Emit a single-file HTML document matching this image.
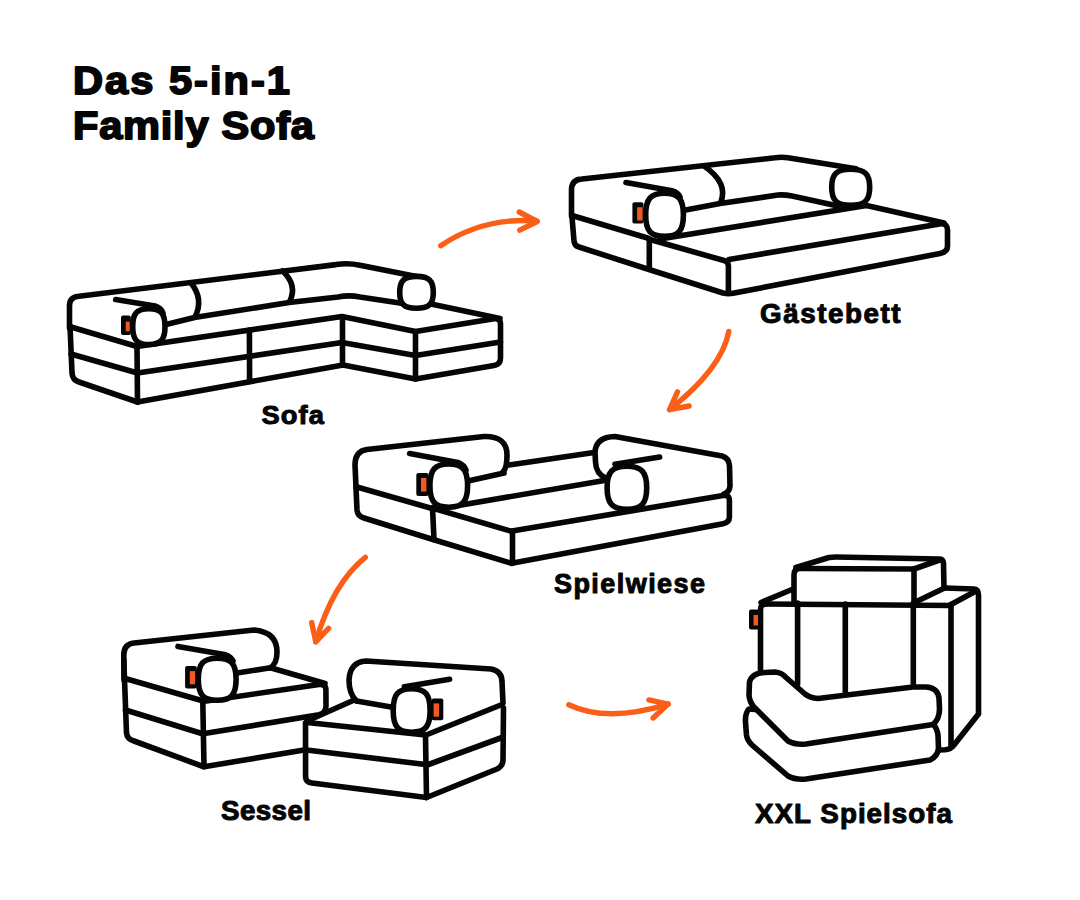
<!DOCTYPE html>
<html><head><meta charset="utf-8">
<style>
html,body{margin:0;padding:0;background:#fff;width:1080px;height:900px;overflow:hidden}
svg{display:block}
.k path{fill:none;stroke:#050505;stroke-width:5.6;stroke-linecap:round;stroke-linejoin:round}
.b{fill:#fff;stroke:#050505;stroke-width:5.6;stroke-linejoin:round}
.o path{fill:none;stroke:#FB5E17;stroke-width:5.4;stroke-linecap:round;stroke-linejoin:round}
.t{font-family:"Liberation Sans",sans-serif;font-weight:bold;fill:#050505;stroke:#050505;stroke-width:1.0;stroke-linejoin:round}
.tt{stroke-width:1.8}
</style></head>
<body>
<svg width="1080" height="900" viewBox="0 0 1080 900">
<text class="t tt" transform="translate(73,94) scale(1.08,1)" x="0" y="0" font-size="38.5" textLength="200.93" lengthAdjust="spacing">Das 5-in-1</text>
<text class="t tt" transform="translate(73,139) scale(1.08,1)" x="0" y="0" font-size="38.5" textLength="223.15" lengthAdjust="spacing">Family Sofa</text>
<g class="k">
<path d="M69.5,328 L69.5,305 Q70,296.8 79,296.3 L336,264.6 Q348,262.6 360,265.3 L419,277"/>
<path d="M70,326 L72,373 Q72.5,380 79,382 L137.5,402"/>
<path d="M71,327 L137,346.5"/>
<path d="M71,354 L137.5,373"/>
<path d="M137,346.5 L137.5,402"/>
<path d="M137,346.5 L342,316.5 L415.5,331.5 L494,318.8 Q500.5,318 500.5,324 L500.5,358 Q500.5,364.5 494,365.5 L415.5,379 L343,365 L137.5,402"/>
<path d="M137.5,373 L342,342.5 L415.5,355.5 L500.5,342"/>
<path d="M249.4,330 L249.6,381.5"/>
<path d="M342.5,317 L342.5,364.5"/>
<path d="M415.5,331.5 L415.5,379"/>
<path d="M166,324.5 L194.5,317.5 L289,302.5 L338,297 Q349,294.8 360,297 L403,303.5"/>
<path d="M431,304 L500,318.5"/>
<path d="M191,283 Q204,299 195,317"/>
<path d="M282.5,271 Q298,285 289.5,302"/>
<path d="M115.7,299.6 L155,306 Q161,308 163,313"/>
</g>
<path class="b" d="M148.8,308.7 C160.8,308.7 165.0,313.4 165.0,326.6 C165.0,339.8 160.8,344.5 148.8,344.5 C136.9,344.5 132.7,339.8 132.7,326.6 C132.7,313.4 136.9,308.7 148.8,308.7 Z"/>
<path class="b" d="M416.5,276.4 C428.9,276.4 433.3,280.5 433.3,292.4 C433.3,304.2 428.9,308.3 416.5,308.3 C404.1,308.3 399.7,304.2 399.7,292.4 C399.7,280.5 404.1,276.4 416.5,276.4 Z"/>
<rect x="121" y="315.5" width="9.8" height="19.5" rx="2" fill="#050505"/>
<rect x="125.7" y="321.7" width="4.0" height="9.6" fill="#EE5A22"/>
<g class="k">
<path d="M571.5,216 L571.5,190 Q571.5,179.5 582,179 L775,157.8 Q781.5,156.8 788,157.8 L856,168.8"/>
<path d="M704,166 Q729,183 720.5,203"/>
<path d="M683,210.5 L720,203.5 L778,195 Q785,194.6 792,196 L838,206"/>
<path d="M626,182.5 L672,190.8 Q678,192.5 680,197"/>
<path d="M572,217 L574,241 Q574.5,246 579,247 L649,269.5 L723,293 Q728,294.3 733,293.3 L940,253.5 Q947.5,252 947.5,246 L947.5,230 Q947.5,223.5 941,223.8 L729,259.5"/>
<path d="M572,215.5 L647.5,238"/>
<path d="M649.3,239 L649.3,268.5"/>
<path d="M650,239.5 L724,260.5 Q728.4,261.5 728.4,266 L728.4,293"/>
<path d="M866.5,205.5 L944,223"/>
<path d="M660,239 L866.5,205.5"/>
</g>
<path class="b" d="M850.7,169.3 C864.8,169.3 869.7,174.0 869.7,187.3 C869.7,200.6 864.8,205.3 850.7,205.3 C836.6,205.3 831.7,200.6 831.7,187.3 C831.7,174.0 836.6,169.3 850.7,169.3 Z"/>
<path class="b" d="M664.5,193.3 C678.5,193.3 683.4,198.9 683.4,214.9 C683.4,230.8 678.5,236.4 664.5,236.4 C650.6,236.4 645.7,230.8 645.7,214.9 C645.7,198.9 650.6,193.3 664.5,193.3 Z"/>
<rect x="632.4" y="202.2" width="11.1" height="21.4" rx="2" fill="#050505"/>
<rect x="637.1" y="207.3" width="5.5" height="13.2" fill="#EE5A22"/>
<g class="k">
<path d="M356,487 L355,465 Q355,451 367,449.5 L484,436.5 Q507,436 507,455 Q507,468 503,472"/>
<path d="M468,481 L504,473"/>
<path d="M509,465 L594,452.5"/>
<path d="M605.8,478 Q596,474 595.5,462 L595,452 Q596,437 615,436.5 L722,456 Q729,458 729.5,466 L730,486 Q729.5,492 724,494"/>
<path d="M438,509 L605.8,480.2"/>
<path d="M512,531 L723,495.5 Q729.4,494.5 729.4,500.5 L729.4,517 Q729.4,522.5 723,523.8 L513,563"/>
<path d="M356,488 L357,510 Q357.5,516 364,518 L433,539.5 L512,563.5"/>
<path d="M357,487 L432,508.5"/>
<path d="M432.5,507.5 L434,539.5"/>
<path d="M434,508.5 L512,531.5"/>
<path d="M512.5,531.5 L512.5,563"/>
<path d="M409.7,453.5 L457.9,462.4 Q464,465 466,470"/>
</g>
<path class="b" d="M448.8,464.0 C462.7,464.0 467.6,469.6 467.6,485.6 C467.6,501.6 462.7,507.2 448.8,507.2 C434.8,507.2 429.9,501.6 429.9,485.6 C429.9,469.6 434.8,464.0 448.8,464.0 Z"/>
<path class="b" d="M626.9,466.3 C641.6,466.3 646.7,471.9 646.7,487.8 C646.7,503.6 641.6,509.2 626.9,509.2 C612.2,509.2 607.1,503.6 607.1,487.8 C607.1,471.9 612.2,466.3 626.9,466.3 Z"/>
<g class="k">
<path d="M615,464.2 L659.6,457.1"/>
</g>
<rect x="416.3" y="473" width="12.2" height="22.9" rx="2" fill="#050505"/>
<rect x="421" y="478" width="5.4" height="13.6" fill="#EE5A22"/>
<g class="k">
<path d="M124,680 L123.8,655 Q123.8,644 134,643 L254,630 Q277,632 277,652 Q277,664 270,668"/>
<path d="M237,673 L269,668"/>
<path d="M273,668.5 L325,683.5"/>
<path d="M123.8,660 L126.5,733 Q127,739 134,741 L204,766.8 L304,750"/>
<path d="M125.2,678.5 L201.5,700.5"/>
<path d="M125.5,710 L202.5,733.8"/>
<path d="M202.8,701.5 L204,766.8"/>
<path d="M202.8,701.5 L319,684.5 Q325.9,683.8 325.9,690 L326,706 Q326,713 319,714.8 L202.8,733.8"/>
<path d="M178,646.4 L225.6,654.8 Q231,656.5 233,661"/>
</g>
<path class="b" d="M217.2,658.3 C231.2,658.3 236.1,663.8 236.1,679.3 C236.1,694.8 231.2,700.3 217.2,700.3 C203.2,700.3 198.3,694.8 198.3,679.3 C198.3,663.8 203.2,658.3 217.2,658.3 Z"/>
<rect x="185.1" y="666" width="11.7" height="22.6" rx="2" fill="#050505"/>
<rect x="189.8" y="671.1" width="5.3" height="13.2" fill="#EE5A22"/>
<g class="k">
<path d="M356.5,701 Q349,694 349,680 Q350,662 366,661 L491,669 Q502,671 502,682 L503,703"/>
<path d="M356.5,701 L391,707"/>
<path d="M352,701 L307,721"/>
<path d="M307,722.5 L425.5,735"/>
<path d="M306.5,750 L425.5,764.5"/>
<path d="M305.5,723 L305.6,777 Q306,782.5 312,783 L426.5,797.5"/>
<path d="M425.5,735 L426.5,797.5"/>
<path d="M428.5,734 L502,704.5"/>
<path d="M428.5,764.5 L502,737.5"/>
<path d="M426.5,797.5 L497,769 Q503,766 503,760 L503.5,708"/>
</g>
<path class="b" d="M411.6,688.7 C425.3,688.7 430.1,694.4 430.1,710.5 C430.1,726.5 425.3,732.2 411.6,732.2 C398.0,732.2 393.2,726.5 393.2,710.5 C393.2,694.4 398.0,688.7 411.6,688.7 Z"/>
<g class="k">
<path d="M404.4,686.7 L449.6,679.3"/>
</g>
<rect x="431.7" y="698.4" width="11.6" height="21.8" rx="2" fill="#050505"/>
<rect x="433.6" y="703.4" width="5.5" height="13.3" fill="#EE5A22"/>
<g class="k">
<path d="M794,602 L794,575 Q794,568.5 800,568.5 L914,569 L914,603"/>
<path d="M796,567.5 L829,557.5 Q832,557 836,557 L939,559 Q943,559 943.5,563 L944,588"/>
<path d="M914,569 L941,559.5"/>
<path d="M915.5,602 L944.5,588"/>
<path d="M766,604 L951,605.5"/>
<path d="M761,602.5 L792,589.5"/>
<path d="M760.5,671 L760.5,610 Q760.5,604 766,604"/>
<path d="M797.6,603 L797.6,684"/>
<path d="M845.3,604 L845.3,692"/>
<path d="M913.3,603 L913.3,684"/>
<path d="M944.5,588 L974,589 Q978.5,589.5 978.5,595 L978.5,714 L954,745 Q950.5,749.5 945,749.8 L938,750"/>
<path d="M951,604.5 L976,591"/>
<path d="M951,604.5 L951,747"/>
</g>
<path class="b" d="M749,709 Q745,713 745.5,722 L746.5,735 Q747,740 752,745 L788,776 Q795,780 806,779 L930,760 Q938,756 938.5,748 L938,735 Q937,728 933,724 Z"/>
<path class="b" d="M933,724.5 Q939.5,719 939.5,709 L939,698 Q937.5,687.5 926,687 L913,687 L818,698.5 Q810,698 805,694 L786,677.5 Q782,672.5 775,672 L765,672.5 Q752,673 749.5,682 L749,695 Q749.5,702 754,707 L788,741 Q795,745 806,744 Z"/>
<rect x="749" y="609.5" width="10.0" height="20.0" rx="2" fill="#050505"/>
<rect x="753.5" y="615" width="4.5" height="10.5" fill="#EE5A22"/>
<g class="o">
<path d="M440.7,245.7 Q483,217 536.7,221"/>
<path d="M519.2,212 L537.3,221.5 L519.8,230.2"/>
<path d="M728.8,331.4 Q722,368 669.6,409.6"/>
<path d="M677.5,391.9 L669.6,409.6 L689.1,406"/>
<path d="M365.3,557.3 Q333,583 315.75,641.8"/>
<path d="M311.7,622.6 L315.75,641.8 L328.6,628.4"/>
<path d="M568.8,704.7 Q607,723 668.1,704.1"/>
<path d="M648.9,699.9 L668.1,704.1 L653.1,717.9"/>
</g>
<text class="t" transform="translate(261.5,424.2) scale(1.03,1)" x="0" y="0" font-size="26.5" textLength="60.68" lengthAdjust="spacing">Sofa</text>
<text class="t" transform="translate(760,322.8) scale(1.03,1)" x="0" y="0" font-size="27" textLength="136.41" lengthAdjust="spacing">Gästebett</text>
<text class="t" transform="translate(554,592.5) scale(1.0,1)" x="0" y="0" font-size="27" textLength="151.00" lengthAdjust="spacing">Spielwiese</text>
<text class="t" transform="translate(221,820.2) scale(1.03,1)" x="0" y="0" font-size="27" textLength="87.38" lengthAdjust="spacing">Sessel</text>
<text class="t" transform="translate(755,822.5) scale(1.03,1)" x="0" y="0" font-size="27" textLength="191.26" lengthAdjust="spacing">XXL Spielsofa</text>
</svg>
</body></html>
